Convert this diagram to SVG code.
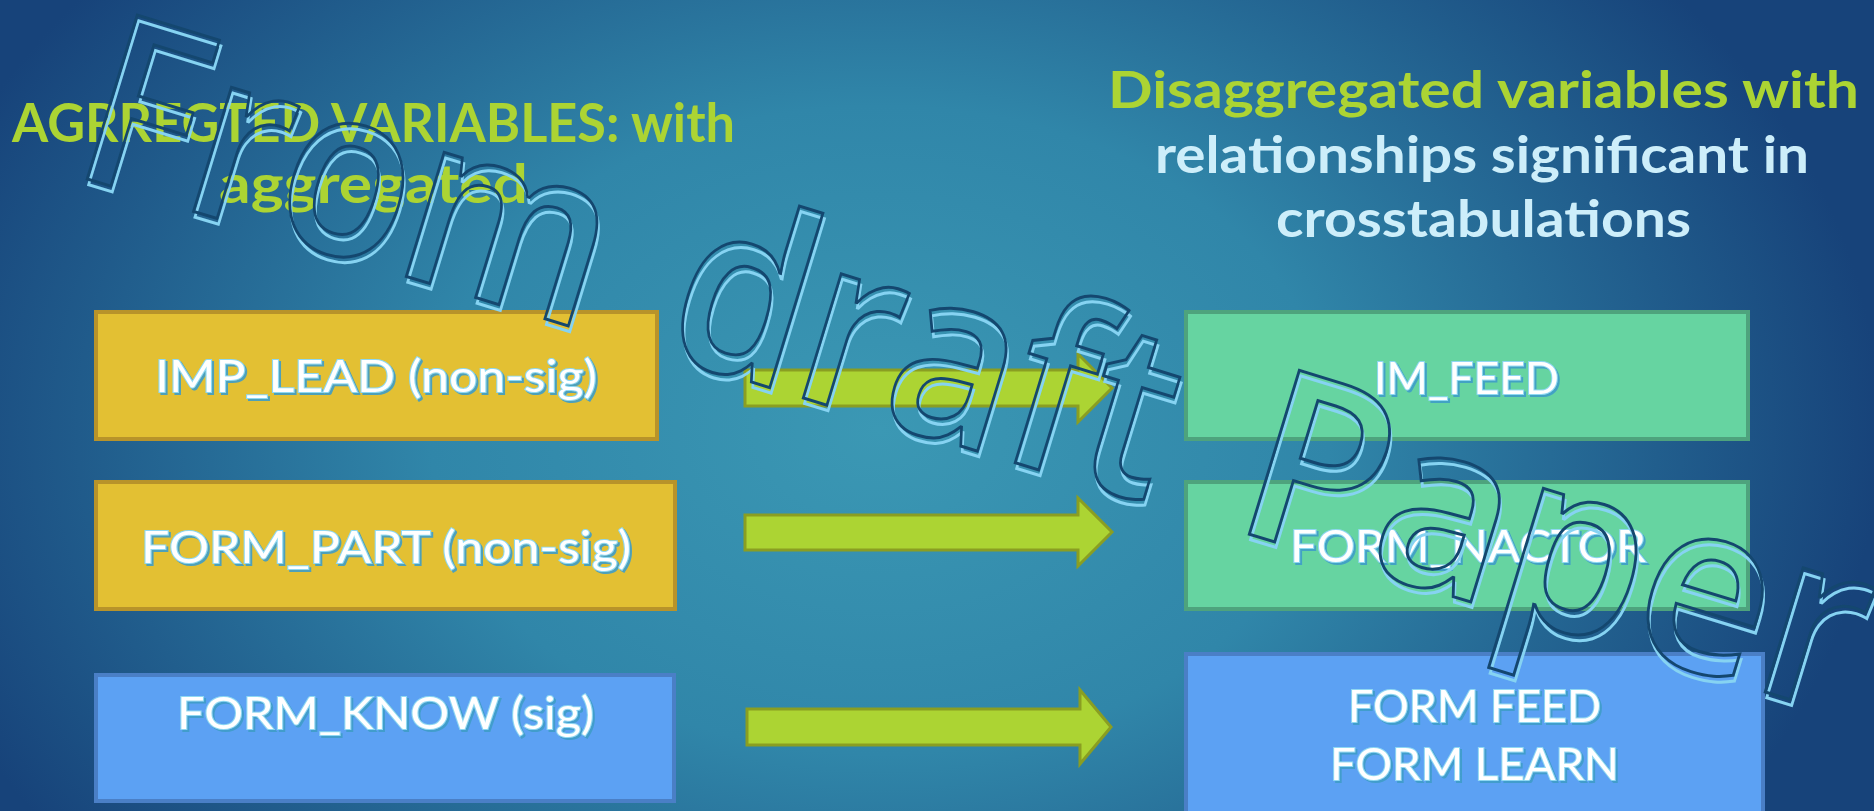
<svg xmlns="http://www.w3.org/2000/svg" width="1874" height="811" viewBox="0 0 1874 811">
<defs>
<radialGradient id="bg" gradientUnits="userSpaceOnUse" cx="880" cy="430" r="1000" gradientTransform="translate(880 430) scale(1 0.72) translate(-880 -430)">
<stop offset="0" stop-color="#3b98b4"/>
<stop offset="0.45" stop-color="#3086a9"/>
<stop offset="1" stop-color="#17437a"/>
</radialGradient>
<filter id="sh" x="-10%" y="-20%" width="120%" height="140%">
<feDropShadow dx="2" dy="2" stdDeviation="0.6" flood-color="#3d9cc8" flood-opacity="0.9"/>
</filter>
<style>
.t1{font-family:Lato,"Liberation Sans",sans-serif;font-weight:bold;font-size:54px;fill:#acd433;text-anchor:start}
.t2{font-family:Lato,"Liberation Sans",sans-serif;font-weight:bold;font-size:51px;text-anchor:start}
.g{fill:#acd433}
.lb{fill:#cdeefa}
.lbl{font-family:Lato,"Liberation Sans",sans-serif;font-size:44px;fill:#ffffff;stroke:#8fd8f2;stroke-width:2;paint-order:stroke;filter:url(#sh)}
.yel{fill:#e3c033;stroke:#b8932a;stroke-width:4}
.grn{fill:#66d4a1;stroke:#4ea37d;stroke-width:4}
.blu{fill:#5ca1f3;stroke:#4a7fc6;stroke-width:4}
.arr{fill:#acd433;stroke:#8a9e22;stroke-width:3;stroke-linejoin:miter}
.wm{font-family:"Open Sans",Lato,sans-serif;font-weight:600;font-size:240px;fill:none;stroke-width:3}
.wd{stroke:#14476f}
.wl{stroke:#86d3f2}
</style>
</defs>
<rect x="0" y="0" width="1874" height="811" fill="url(#bg)"/>

<g id="titles">
<text class="t1" x="12" y="142" textLength="723" lengthAdjust="spacingAndGlyphs">AGRREGTED VARIABLES: with</text>
<text class="t1" x="219" y="203" textLength="309" lengthAdjust="spacingAndGlyphs">aggregated</text>
<text class="t2 g" x="1108" y="108" textLength="751" lengthAdjust="spacingAndGlyphs">Disaggregated variables with</text>
<text class="t2 lb" x="1155" y="173" textLength="654" lengthAdjust="spacingAndGlyphs">relationships significant in</text>
<text class="t2 lb" x="1276" y="237" textLength="415" lengthAdjust="spacingAndGlyphs">crosstabulations</text>
</g>

<g id="node-imp-lead">
<rect class="yel" x="96" y="312" width="561" height="127"/>
<text class="lbl" x="155" y="392" textLength="442" lengthAdjust="spacingAndGlyphs">IMP_LEAD (non-sig)</text>
</g>
<g id="node-form-part">
<rect class="yel" x="96" y="482" width="579" height="127"/>
<text class="lbl" x="141" y="563" textLength="490" lengthAdjust="spacingAndGlyphs">FORM_PART (non-sig)</text>
</g>
<g id="node-form-know">
<rect class="blu" x="96" y="675" width="578" height="126"/>
<text class="lbl" x="177" y="729" textLength="417" lengthAdjust="spacingAndGlyphs">FORM_KNOW (sig)</text>
</g>
<g id="node-im-feed">
<rect class="grn" x="1186" y="312" width="562" height="127"/>
<text class="lbl" x="1374" y="394" textLength="185" lengthAdjust="spacingAndGlyphs">IM_FEED</text>
</g>
<g id="node-form-nactor">
<rect class="grn" x="1186" y="482" width="562" height="127"/>
<text class="lbl" x="1290" y="562" textLength="356" lengthAdjust="spacingAndGlyphs">FORM_NACTOR</text>
</g>
<g id="node-form-feed-learn">
<rect class="blu" x="1186" y="654" width="577" height="162"/>
<text class="lbl" x="1348" y="722" textLength="253" lengthAdjust="spacingAndGlyphs">FORM FEED</text>
<text class="lbl" x="1330" y="780" textLength="289" lengthAdjust="spacingAndGlyphs">FORM LEARN</text>
</g>

<g id="connectors">
<polygon class="arr" points="745,370 1078,370 1078,354 1112,388 1078,422 1078,406 745,406"/>
<polygon class="arr" points="745,515 1078,515 1078,498 1112,532 1078,566 1078,550 745,550"/>
<polygon class="arr" points="747,709 1080,709 1080,690 1111,727 1080,764 1080,745 747,745"/>
</g>

<g id="watermark" transform="translate(68 173) rotate(17)">
<g transform="translate(3 5)">
<text class="wm wl" x="0" y="0" textLength="540" lengthAdjust="spacingAndGlyphs">From</text>
<text class="wm wl" x="618" y="0" textLength="512" lengthAdjust="spacingAndGlyphs">draft</text>
<text class="wm wl" x="1214" y="0" textLength="640" lengthAdjust="spacingAndGlyphs">Paper</text>
</g>
<text class="wm wd" x="0" y="0" textLength="540" lengthAdjust="spacingAndGlyphs">From</text>
<text class="wm wd" x="618" y="0" textLength="512" lengthAdjust="spacingAndGlyphs">draft</text>
<text class="wm wd" x="1214" y="0" textLength="640" lengthAdjust="spacingAndGlyphs">Paper</text>
</g>
</svg>
